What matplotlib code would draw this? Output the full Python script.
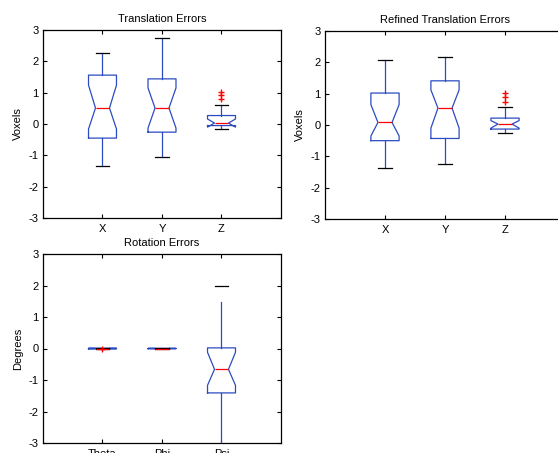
import numpy as np
import matplotlib.pyplot as plt

plt.rcParams['font.family'] = ['Liberation Sans', 'DejaVu Sans']
plt.rcParams['font.size'] = 8
plt.rcParams['axes.unicode_minus'] = False

xyz_labels = ['X', 'Y', 'Z']
rot_labels = ['Theta', 'Phi', 'Psi']

# Translation errors (voxels)
trans_whislo = [-1.34, -1.06, -0.17]
trans_q1 = [-0.45, -0.26, -0.05]
trans_cilo = [-0.16, -0.13, -0.10]
trans_med = [0.51, 0.51, 0.03]
trans_cihi = [1.24, 1.15, 0.16]
trans_q3 = [1.56, 1.44, 0.27]
trans_whishi = [2.28, 2.73, 0.61]
trans_fliers = [[], [], [0.80, 0.94, 1.03]]

# Refined translation errors (voxels)
ref_whislo = [-1.38, -1.24, -0.27]
ref_q1 = [-0.50, -0.43, -0.13]
ref_cilo = [-0.35, -0.10, -0.10]
ref_med = [0.08, 0.54, 0.03]
ref_cihi = [0.65, 1.12, 0.14]
ref_q3 = [1.02, 1.41, 0.22]
ref_whishi = [2.06, 2.16, 0.56]
ref_fliers = [[], [], [0.74, 0.88, 1.02]]

# Rotation errors (degrees)
rot_whislo = [-0.02, -0.01, -3.3]
rot_q1 = [-0.01, -0.005, -1.41]
rot_cilo = [-0.005, -0.003, -1.17]
rot_med = [0.0, 0.0, -0.66]
rot_cihi = [0.005, 0.003, -0.12]
rot_q3 = [0.01, 0.005, 0.02]
rot_whishi = [0.02, 0.01, 2.0]
rot_fliers = [[-0.01], [], []]
psi_whisker_top = 1.49  # visible end of the blue upper whisker for Psi

blue = '#2a4cc0'


def make_stats(whislo, q1, cilo, med, cihi, q3, whishi, fliers, labels):
    stats = []
    for i in range(len(med)):
        stats.append(dict(whislo=whislo[i], q1=q1[i], cilo=cilo[i], med=med[i],
                          cihi=cihi[i], q3=q3[i], whishi=whishi[i],
                          fliers=np.array(fliers[i]), label=labels[i]))
    return stats


def draw(ax, stats, title, ylabel):
    res = ax.bxp(stats, positions=[1, 2, 3], widths=0.47, shownotches=True,
                 boxprops=dict(color=blue, linewidth=0.9),
                 whiskerprops=dict(color=blue, linewidth=0.9),
                 capprops=dict(color='black', linewidth=0.9),
                 medianprops=dict(color='red', linewidth=0.9),
                 flierprops=dict(marker='+', markeredgecolor='red',
                                 markersize=5, linestyle='none'))
    ax.set_xlim(0, 4)
    ax.set_ylim(-3, 3)
    ax.set_yticks(range(-3, 4))
    ax.set_title(title, fontsize=8, pad=6)
    ax.set_ylabel(ylabel, fontsize=8, labelpad=4)
    ax.tick_params(direction='in', length=3, top=True, right=True,
                   labelsize=8, pad=3)
    ax.tick_params(axis='x', pad=4)
    for s in ax.spines.values():
        s.set_linewidth(0.9)
    return res


fig = plt.figure(figsize=(5.58, 4.53), dpi=100)
W, H = 558.0, 453.0
ax1 = fig.add_axes([43 / W, 1 - 218 / H, 238 / W, 188 / H])
ax2 = fig.add_axes([325 / W, 1 - 219 / H, 240 / W, 188 / H])
ax3 = fig.add_axes([43 / W, 1 - 443 / H, 238 / W, 189 / H])

draw(ax1, make_stats(trans_whislo, trans_q1, trans_cilo, trans_med, trans_cihi,
                     trans_q3, trans_whishi, trans_fliers, xyz_labels),
     'Translation Errors', 'Voxels')
draw(ax2, make_stats(ref_whislo, ref_q1, ref_cilo, ref_med, ref_cihi,
                     ref_q3, ref_whishi, ref_fliers, xyz_labels),
     'Refined Translation Errors', 'Voxels')
res = draw(ax3, make_stats(rot_whislo, rot_q1, rot_cilo, rot_med, rot_cihi,
                           rot_q3, rot_whishi, rot_fliers, rot_labels),
           'Rotation Errors', 'Degrees')

# Psi upper whisker stops short of its cap in the original
upper = res['whiskers'][5]
upper.set_ydata([rot_q3[2], psi_whisker_top])

fig.savefig('out.png', dpi=100)
